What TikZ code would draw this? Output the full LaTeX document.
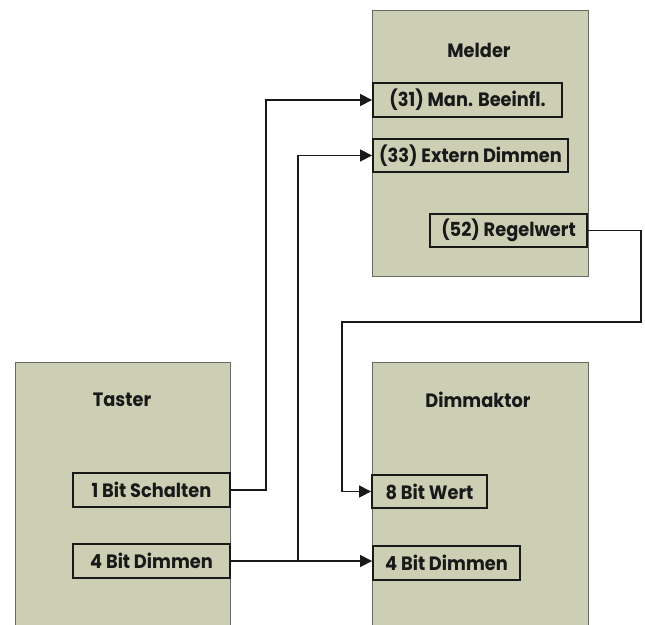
\documentclass[tikz,border=0pt]{standalone}
\usepackage{fontspec}
\setmainfont{Poppins}[FakeStretch=0.92]
\usepackage{xcolor}
\usetikzlibrary{arrows.meta}
\definecolor{boxfill}{RGB}{205,207,181}
\definecolor{boxline}{RGB}{105,105,100}
\definecolor{inkline}{RGB}{25,25,25}
\begin{document}
\begin{tikzpicture}[x=0.75pt,y=0.75pt,yscale=-1,xscale=1,
  device/.style={draw=boxline,fill=boxfill,line width=0.6pt,inner sep=0pt},
  devlabel/.style={font=\bfseries\fontsize{14.5}{16}\selectfont,text=inkline},
  objbox/.style={draw=inkline,line width=1.4pt,inner sep=0pt,minimum height=25pt,
    font=\bfseries\fontsize{14.5}{16}\selectfont,text=inkline},
  conn/.style={draw=inkline,line width=1.1pt},
  connarrow/.style={conn,-{Triangle[length=9pt,width=9pt]}}]
\useasboundingbox (0,0) rectangle (645,624);

%Shape: Rectangle (devices)
\node [device,minimum width=162pt,minimum height=199.5pt] (melder) at (480,143) {};
\node [device,minimum width=161.25pt,minimum height=204pt] (taster) at (122.5,498) {};
\node [device,minimum width=162pt,minimum height=204pt] (dimmaktor) at (480,498) {};

% Text Node
\node [devlabel] (meldertxt) at (479,50) {Melder};
% Text Node
\node [devlabel] (tastertxt) at (122,400) {Taster};
% Text Node
\node [devlabel] (dimmtxt) at (478,400) {Dimmaktor};

%Shape: Rectangle (objects)
\node [objbox,fill=boxfill,minimum width=141.75pt] (man) at (467.5,100) {(31) Man. Beeinfl.};
\node [objbox,fill=boxfill,minimum width=146.25pt] (ext) at (470.5,155.5) {(33) Extern Dimmen};
\node [objbox,fill=boxfill,minimum width=117.75pt] (regel) at (508.5,230.5) {(52) Regelwert};
\node [objbox,fill=boxfill,minimum width=117.75pt] (schalt) at (151.5,490) {1 Bit Schalten};
\node [objbox,fill=boxfill,minimum width=117.75pt] (tdimm) at (151.5,561) {4 Bit Dimmen};
\node [objbox,fill=boxfill,minimum width=86.25pt] (wert) at (429.5,491.5) {8 Bit Wert};
\node [objbox,fill=boxfill,minimum width=110.25pt] (ddimm) at (446.5,563) {4 Bit Dimmen};

%Straight Lines
\coordinate (up1) at (266,490);
\coordinate (jn) at (298,561);
\coordinate (r1) at (641,322);
\coordinate (r2) at (342,322);
\draw [connarrow] (schalt.east) -- (up1) |- (man.west);
\draw [connarrow] (tdimm.east) -- (tdimm.east -| ddimm.west);
\draw [connarrow] (jn) |- (ext.west);
\draw [connarrow] (regel.east) -| (r1) -- (r2) |- (wert.west);

\end{tikzpicture}
\end{document}
